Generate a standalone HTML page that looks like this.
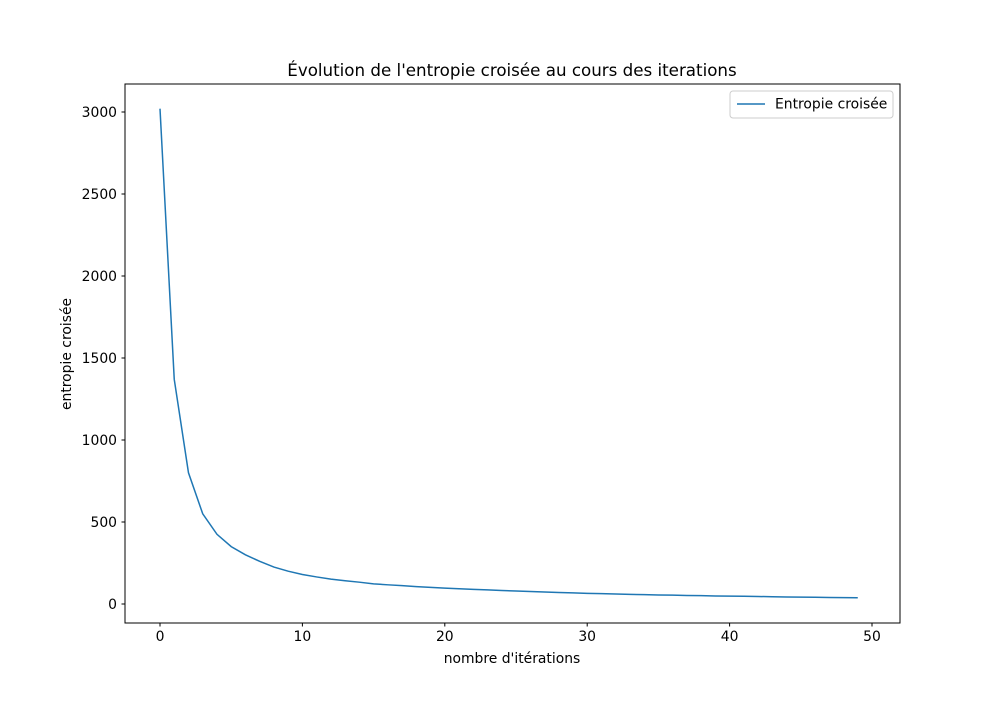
<!DOCTYPE html>
<html><head><meta charset="utf-8">
<style>
body{margin:0;background:#fff;}
svg text{font-family:"DejaVu Sans","Liberation Sans",sans-serif;fill:#000;}
</style></head>
<body>
<svg id="chart" width="1000" height="700" xmlns="http://www.w3.org/2000/svg">
<rect width="1000" height="700" fill="#fff"/>
<g id="ticks"></g>
<path id="line" fill="none" stroke="#1f77b4" stroke-width="1.5"/>
<rect x="125" y="84" width="775" height="539" fill="none" stroke="#000" stroke-width="1"/>
<text x="512" y="76" font-size="16.7" text-anchor="middle">Évolution de l'entropie croisée au cours des iterations</text>
<text x="512" y="663" font-size="13.9" text-anchor="middle">nombre d'itérations</text>
<text transform="translate(71,354) rotate(-90)" font-size="13.9" text-anchor="middle">entropie croisée</text>
<g>
<rect x="730" y="91" width="163" height="27" rx="3" fill="#fff" stroke="#ccc"/>
<line x1="737" y1="104" x2="765" y2="104" stroke="#1f77b4" stroke-width="1.5"/>
<text x="775" y="108.5" font-size="13.9">Entropie croisée</text>
</g>
</svg>
<script>
const values=[3020,1370,800,550,425,350,300,260,225,200,180,165,152,142,133,123,117,112,106,101,97,93,89,86,82,79,76,73,70,68,65,63,61,59,57,55,54,52,51,49,48,47,46,44,43,42,41,40,39,38];
const xTicks=[0,10,20,30,40,50];
const yTicks=[0,500,1000,1500,2000,2500,3000];
function sx(v){return 160+v*(872-160)/50;}
function sy(v){return 604-v*(604-112)/3000;}
const ns="http://www.w3.org/2000/svg";
const g=document.getElementById('ticks');
xTicks.forEach(t=>{
  const l=document.createElementNS(ns,'line');
  l.setAttribute('x1',sx(t));l.setAttribute('x2',sx(t));l.setAttribute('y1',623);l.setAttribute('y2',626.5);l.setAttribute('stroke','#000');
  
  
  g.appendChild(l);
  const tx=document.createElementNS(ns,'text');
  tx.setAttribute('x',sx(t));tx.setAttribute('y',641);tx.setAttribute('font-size','13.9');tx.setAttribute('text-anchor','middle');tx.textContent=t;
  
  
  g.appendChild(tx);
});
yTicks.forEach(t=>{
  const l=document.createElementNS(ns,'line');
  l.setAttribute('x1',121.5);l.setAttribute('x2',125);l.setAttribute('y1',sy(t));l.setAttribute('y2',sy(t));l.setAttribute('stroke','#000');
  
  
  g.appendChild(l);
  const tx=document.createElementNS(ns,'text');
  tx.setAttribute('x',117);tx.setAttribute('y',sy(t)+5);tx.setAttribute('font-size','13.9');tx.setAttribute('text-anchor','end');tx.textContent=t;
  
  
  g.appendChild(tx);
});
document.getElementById('line').setAttribute('d',values.map((v,i)=>(i?'L':'M')+sx(i)+','+sy(v)).join(' '));
</script>
</body></html>
